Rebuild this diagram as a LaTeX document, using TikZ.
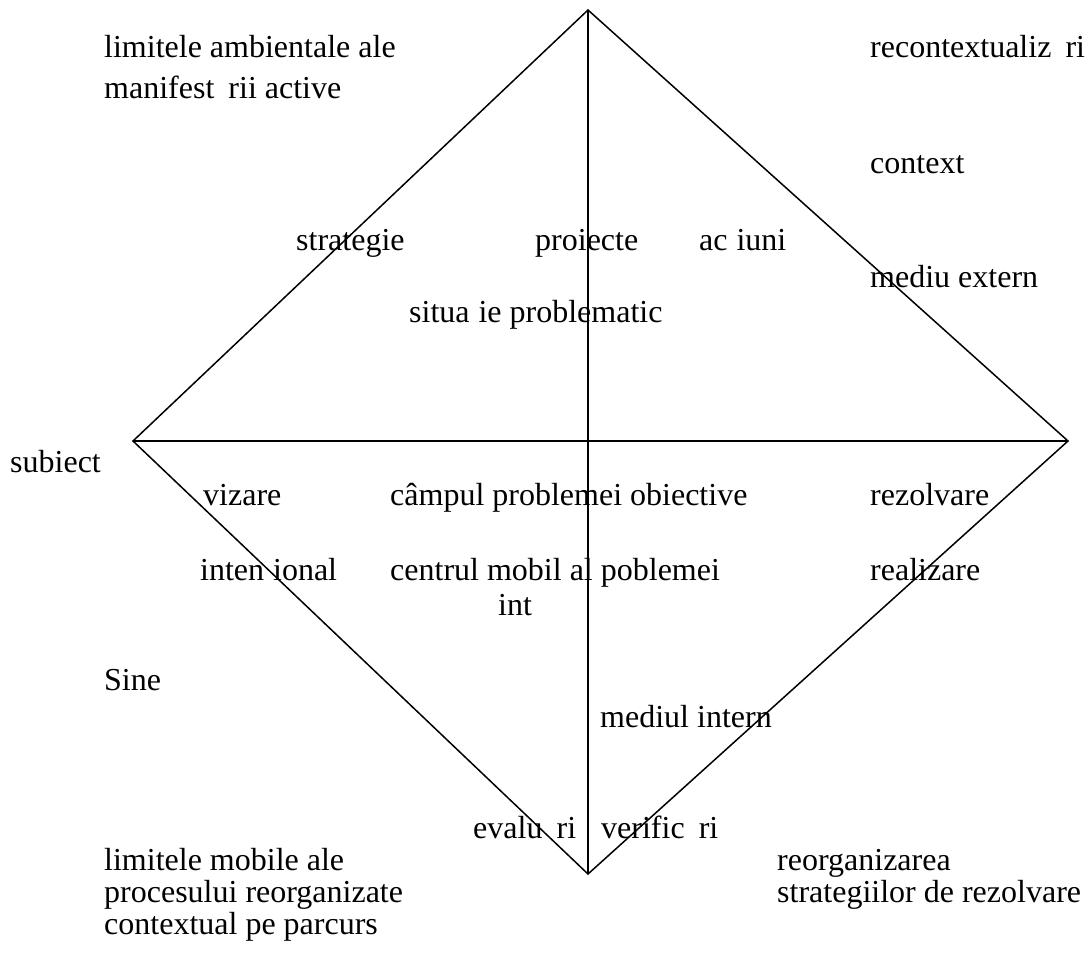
\documentclass[tikz,border=0pt]{standalone}
\usepackage{fontspec}
\setmainfont{Liberation Serif}
\newfontfamily\tnr{Liberation Serif}
% gaps left by letters the original font could not show
\newcommand{\ga}{\hspace{0.44em}}
\newcommand{\gt}{\hspace{0.28em}}
\begin{document}
\begin{tikzpicture}[x=1pt,y=-1pt,
  lbl/.style={anchor=base west,inner sep=0pt,font=\tnr\fontsize{32}{39}\selectfont},
  edge/.style={line width=1.5pt}]
\useasboundingbox (0,0) rectangle (1089,954);
% diamond corners
\coordinate (T) at (588,10);
\coordinate (L) at (133,441);
\coordinate (R) at (1068,441);
\coordinate (B) at (588,874);
\draw[edge,line join=miter] (T) -- (R) -- (B) -- (L) -- cycle;
\draw[edge] (T) -- (B);
\draw[edge] (L) -- (R);
% labels
\node[lbl] (a1) at (104,57) {limitele ambientale ale};
\node[lbl] (a2) at (104,98) {manifest\ga rii active};
\node[lbl] (b1) at (870,57) {recontextualiz\ga ri};
\node[lbl] (b2) at (870,173) {context};
\node[lbl] (b3) at (870,287) {mediu extern};
\node[lbl] (c1) at (296,250) {strategie};
\node[lbl] (c2) at (535,250) {proiecte};
\node[lbl] (c3) at (699,250) {ac\gt iuni};
\node[lbl] (c4) at (409,322) {situa\gt ie problematic};
\node[lbl] (d1) at (10,472) {subiect};
\node[lbl] (e1) at (203,505) {vizare};
\node[lbl] (e2) at (390,505) {câmpul problemei obiective};
\node[lbl] (e3) at (870,505) {rezolvare};
\node[lbl] (f1) at (200,580) {inten\gt ional};
\node[lbl] (f2) at (390,580) {centrul mobil al poblemei};
\node[lbl] (f3) at (870,580) {realizare};
\node[lbl] (f4) at (498,615) {int};
\node[lbl] (g1) at (104,690) {Sine};
\node[lbl] (g2) at (600,727) {mediul intern};
\node[lbl] (h1) at (473,838) {evalu\ga ri};
\node[lbl] (h2) at (601,838) {verific\ga ri};
\node[lbl] (i1) at (104,870) {limitele mobile ale};
\node[lbl] (i2) at (104,902) {procesului reorganizate};
\node[lbl] (i3) at (104,934) {contextual pe parcurs};
\node[lbl] (j1) at (777,870) {reorganizarea};
\node[lbl] (j2) at (777,902) {strategiilor de rezolvare};
\end{tikzpicture}
\end{document}
